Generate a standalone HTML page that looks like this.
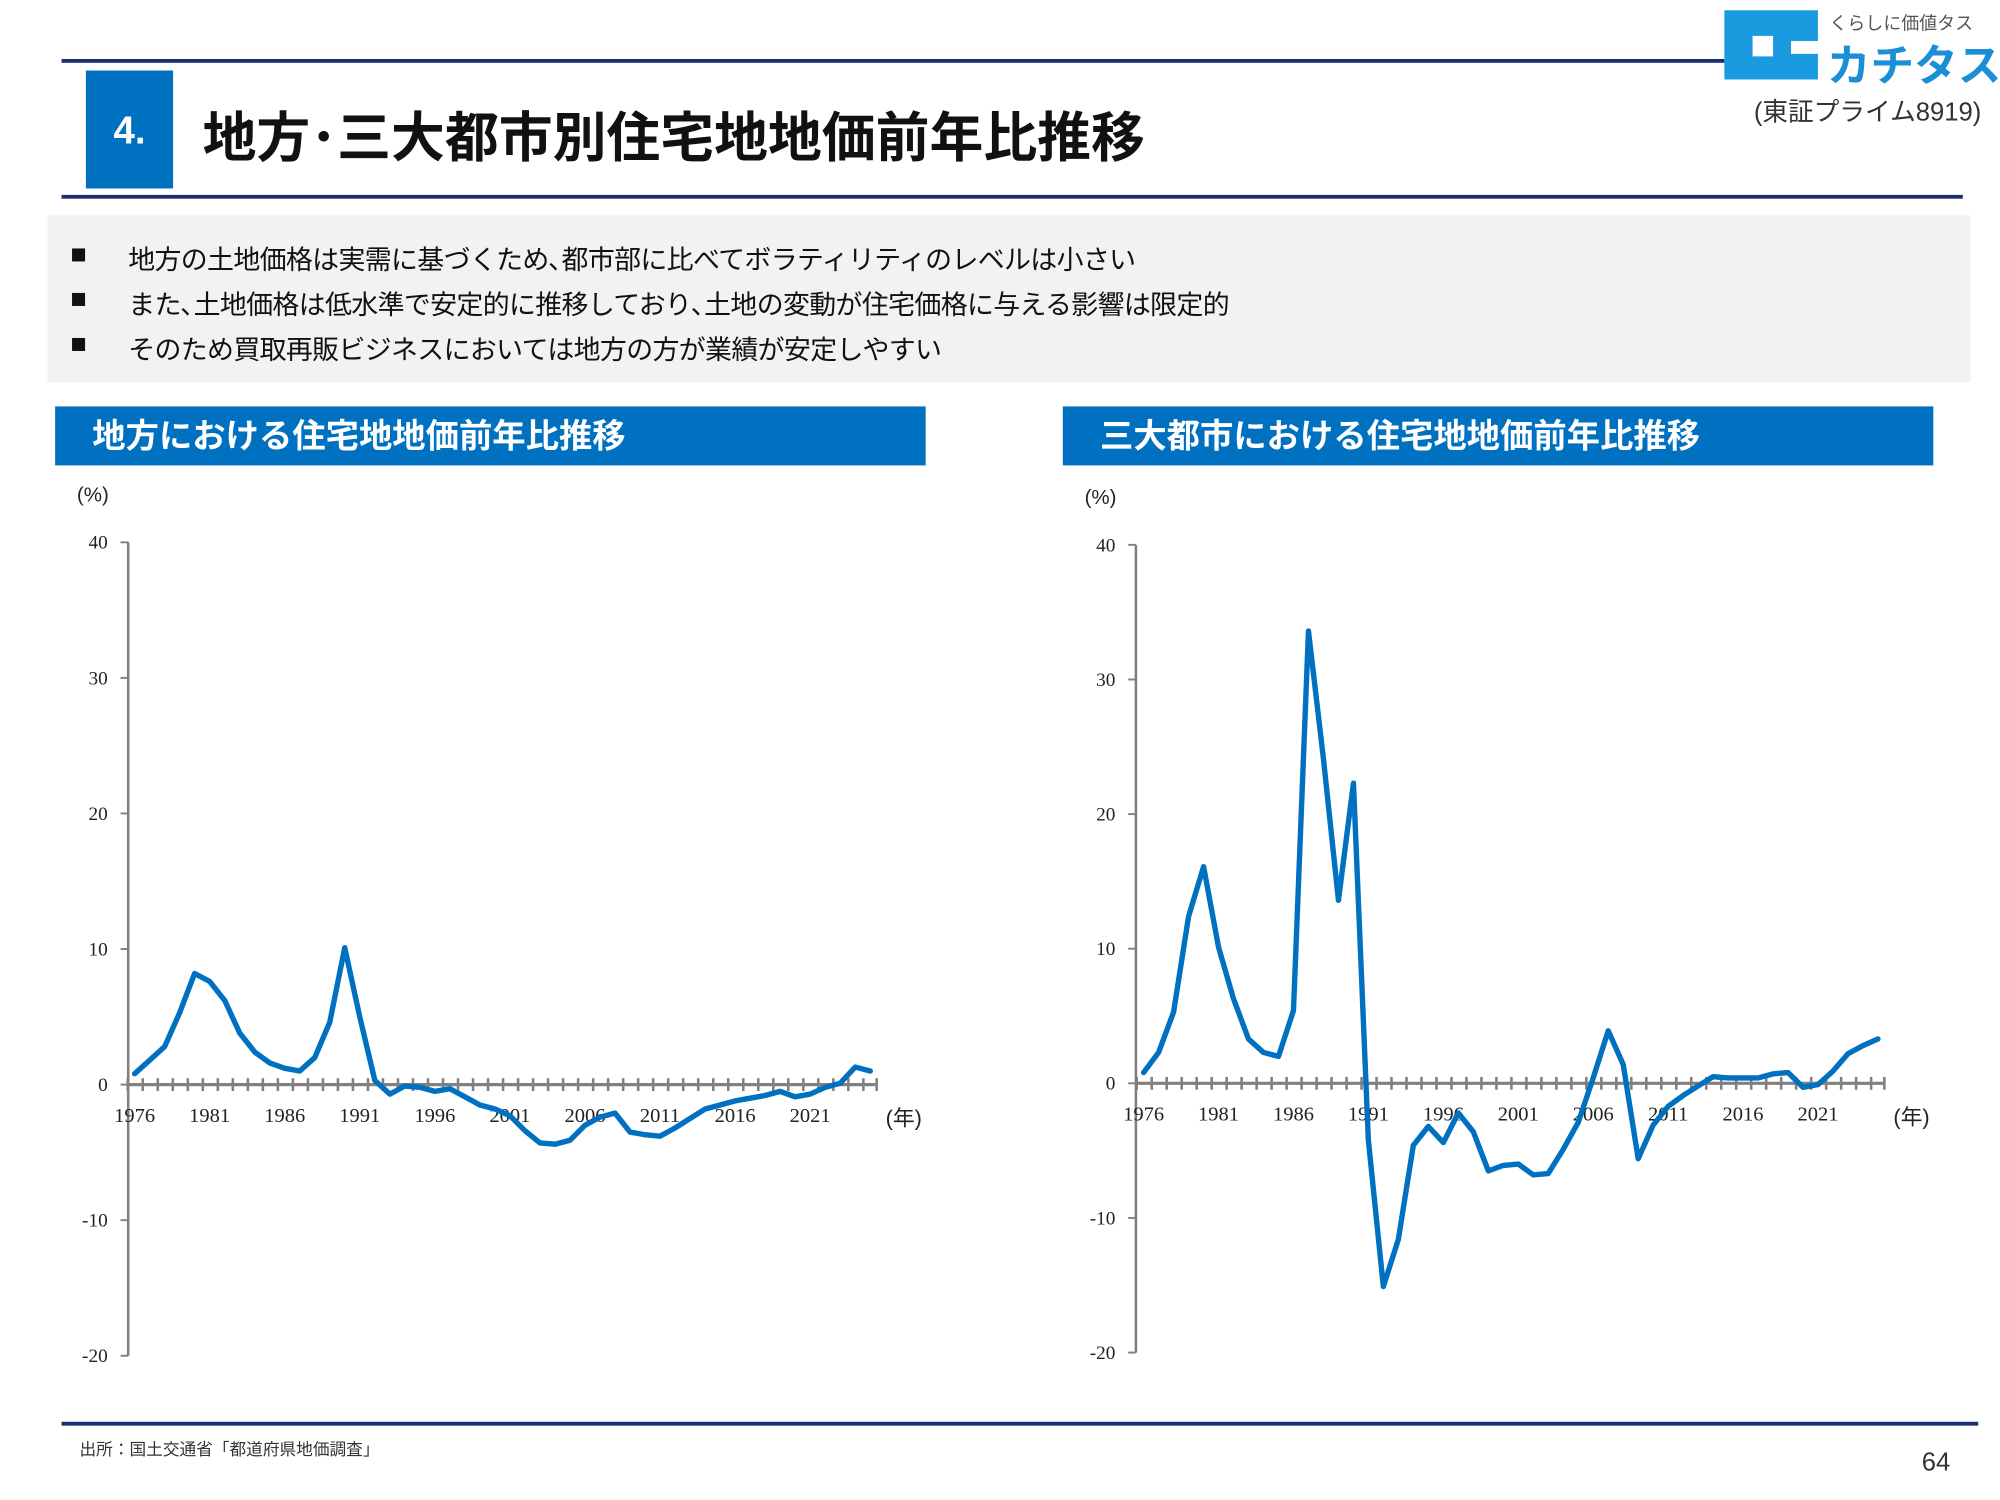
<!DOCTYPE html>
<html><head><meta charset="utf-8">
<style>
html,body{margin:0;padding:0;background:#fff;}
body{width:2000px;height:1500px;overflow:hidden;}
#wrap{position:absolute;left:0;top:0;width:1560px;height:1170px;transform:scale(1.28205);transform-origin:0 0;font-family:"Liberation Sans","Noto Sans CJK JP",sans-serif;}
.abs{position:absolute;}
.hdr{background:#0070c0;color:#fff;font-weight:bold;font-size:26px;line-height:46px;padding-left:29px;box-sizing:border-box;}
.bul{position:absolute;left:55px;font-size:21px;color:#111;}
.bul span{position:absolute;left:45px;white-space:nowrap;letter-spacing:-0.5px;}
</style></head><body>
<div id="wrap">
  <div class="abs" style="left:48px;top:46px;width:1297px;height:3px;background:#1b2f6e"></div>
  <div class="abs" style="left:67px;top:55px;width:68px;height:92px;background:#0070c0;color:#fff;font-weight:bold;font-size:30px;line-height:96px;text-align:center">4.</div>
  <div class="abs" style="left:158px;top:74px;font-size:42px;font-weight:bold;color:#111;white-space:nowrap">地方･三大都市別住宅地地価前年比推移</div>
  <div class="abs" style="left:48px;top:152px;width:1483px;height:3px;background:#1b2f6e"></div>

  <div class="abs" style="left:1345px;top:8px;width:73px;height:54px;background:#1a9be0">
    <div class="abs" style="left:22px;top:20px;width:16px;height:16px;background:#fff"></div>
    <div class="abs" style="left:52px;top:24px;width:21px;height:10px;background:#fff"></div>
  </div>
  <div class="abs" style="left:1427px;top:8px;font-size:14px;color:#555;white-space:nowrap">くらしに価値タス</div>
  <div class="abs" style="left:1425px;top:24px;font-size:34px;font-weight:bold;color:#1a8fd8;white-space:nowrap">カチタス</div>
  <div class="abs" style="left:1368px;top:71px;font-size:20px;color:#333;white-space:nowrap">(東証プライム8919)</div>

  <div class="abs" style="left:37px;top:168px;width:1500px;height:130px;background:#f2f2f2"></div>
  <div class="bul" style="top:187px">■<span>地方の土地価格は実需に基づくため､都市部に比べてボラティリティのレベルは小さい</span></div>
  <div class="bul" style="top:222px">■<span>また､土地価格は低水準で安定的に推移しており､土地の変動が住宅価格に与える影響は限定的</span></div>
  <div class="bul" style="top:257px">■<span>そのため買取再販ビジネスにおいては地方の方が業績が安定しやすい</span></div>

  <div class="abs hdr" style="left:43px;top:317px;width:679px;height:46px">地方における住宅地地価前年比推移</div>
  <div class="abs hdr" style="left:829px;top:317px;width:679px;height:46px">三大都市における住宅地地価前年比推移</div>

  <svg class="abs" id="chart" style="left:0;top:0" width="1560" height="1170"></svg>

  <div class="abs" style="left:48px;top:1109px;width:1495px;height:3px;background:#1b2f6e"></div>
  <div class="abs" style="left:62px;top:1120px;font-size:13px;color:#333;white-space:nowrap">出所：国土交通省「都道府県地価調査」</div>
  <div class="abs" style="left:1499px;top:1130px;font-size:20px;color:#333">64</div>
</div>
<script>
const years = [];
for (let y = 1976; y <= 2025; y++) years.push(y);
const regionalValues = [0.8,1.8,2.8,5.3,8.2,7.6,6.2,3.8,2.4,1.6,1.2,1.0,2.0,4.6,10.1,5.0,0.3,-0.7,-0.1,-0.2,-0.5,-0.3,-0.9,-1.5,-1.8,-2.3,-3.4,-4.3,-4.4,-4.1,-3.0,-2.4,-2.1,-3.5,-3.7,-3.8,-3.2,-2.5,-1.8,-1.5,-1.2,-1.0,-0.8,-0.5,-0.9,-0.7,-0.2,0.1,1.3,1.0];
const metroValues = [0.8,2.3,5.3,12.4,16.1,10.1,6.3,3.3,2.3,2.0,5.4,33.6,24.1,13.6,22.3,-4.2,-15.1,-11.6,-4.6,-3.2,-4.4,-2.2,-3.6,-6.5,-6.1,-6.0,-6.8,-6.7,-4.9,-2.9,0.4,3.9,1.4,-5.6,-3.1,-1.7,-0.9,-0.2,0.5,0.4,0.4,0.4,0.7,0.8,-0.3,-0.1,0.9,2.2,2.8,3.3];
const yTicks = [40,30,20,10,0,-10,-20];
const xTickLabels = [1976,1981,1986,1991,1996,2001,2006,2011,2016,2021];

const NS = 'http://www.w3.org/2000/svg';
const svg = document.getElementById('chart');
function mk(tag, attrs, parent) {
  const e = document.createElementNS(NS, tag);
  for (const k in attrs) e.setAttribute(k, attrs[k]);
  (parent || svg).appendChild(e);
  return e;
}
function drawChart(cfg, values, prefix) {
  const g = mk('g', {});
  
  
  const yS = v => cfg.y0 + (cfg.y40 - cfg.y0) * v / 40;
  const xS = yr => cfg.x1976 + (yr - 1976) * cfg.step;
  const yAxis = mk('line', {x1: cfg.ax, x2: cfg.ax, y1: yS(40), y2: yS(-20), stroke: '#808080', 'stroke-width': 2}, g);
  
  
  yTicks.forEach(t => {
    mk('line', {x1: cfg.ax - 6, x2: cfg.ax, y1: yS(t), y2: yS(t), stroke: '#808080', 'stroke-width': 1.5}, g);
    const tx = mk('text', {x: cfg.ax - 16, y: yS(t) + 5, 'text-anchor': 'end', 'font-size': 15, fill: '#222', 'font-family': 'Liberation Serif, serif'}, g);
    tx.textContent = t;
    
    
  });
  const unit = mk('text', {x: cfg.ax - 40, y: cfg.unitY, 'font-size': 16, fill: '#222'}, g);
  unit.textContent = '(%)';
  
  
  const xAxis = mk('line', {x1: cfg.ax, x2: xS(2025) + 4, y1: yS(0), y2: yS(0), stroke: '#808080', 'stroke-width': 2.5}, g);
  
  
  years.forEach(yr => {
    mk('line', {x1: xS(yr) - cfg.step / 2 + 0.5, x2: xS(yr) - cfg.step / 2 + 0.5, y1: yS(0) - 5, y2: yS(0) + 5, stroke: '#808080', 'stroke-width': 2}, g);
  });
  mk('line', {x1: xS(2025) + 5, x2: xS(2025) + 5, y1: yS(0) - 5, y2: yS(0) + 5, stroke: '#808080', 'stroke-width': 2}, g);
  xTickLabels.forEach(yr => {
    const tx = mk('text', {x: xS(yr), y: yS(0) + 29, 'text-anchor': 'middle', 'font-size': 16, fill: '#222', 'font-family': 'Liberation Serif, serif'}, g);
    tx.textContent = yr;
    
    
  });
  const xu = mk('text', {x: xS(2025) + 12, y: yS(0) + 32, 'font-size': 17, fill: '#222'}, g);
  xu.textContent = '(年)';
  
  
  const d = values.map((v, i) => (i ? 'L' : 'M') + xS(years[i]).toFixed(1) + ',' + yS(v).toFixed(1)).join(' ');
  const p = mk('path', {d: d, fill: 'none', stroke: '#0070c0', 'stroke-width': 4.2, 'stroke-linejoin': 'round', 'stroke-linecap': 'round'}, g);
  
  
}
drawChart({ax: 100, y40: 423, y0: 846, x1976: 105, step: 11.71, unitY: 391}, regionalValues, 'regional');
drawChart({ax: 886, y40: 425, y0: 845, x1976: 892, step: 11.69, unitY: 393}, metroValues, 'metro');
</script>
</body></html>
